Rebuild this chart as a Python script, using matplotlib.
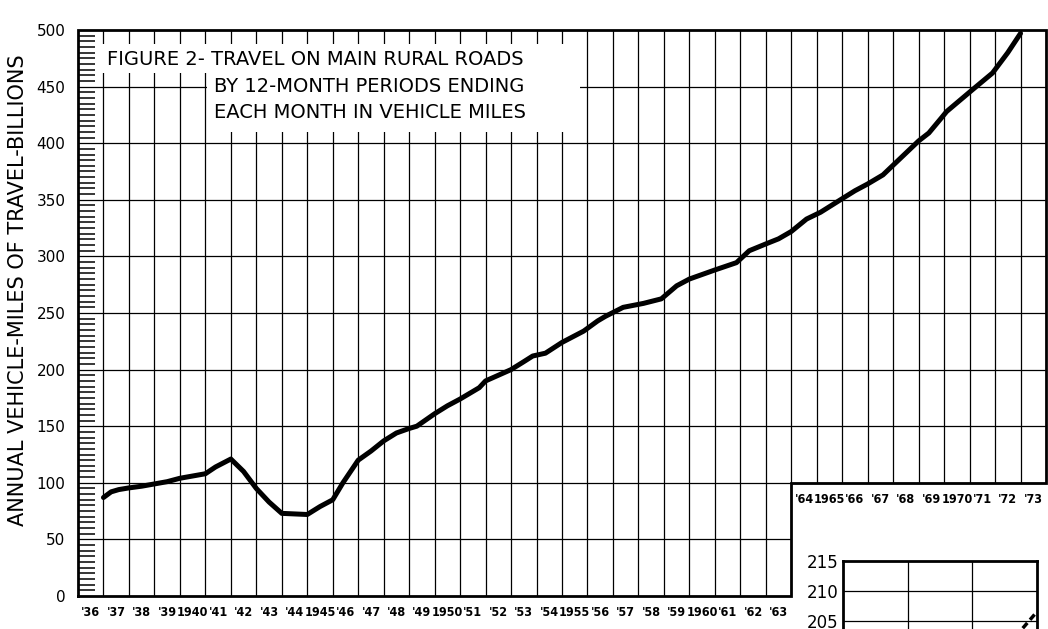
import matplotlib
matplotlib.use('Agg')
import matplotlib.pyplot as plt
from matplotlib.patches import Rectangle
from matplotlib.ticker import MultipleLocator
from matplotlib import font_manager

# ---- data (12-month moving totals, billions of vehicle-miles) ----
years = [1937.0, 1937.3, 1937.6, 1938.0, 1938.5, 1939.0, 1939.5, 1940.0, 1940.5,
         1941.0, 1941.4, 1942.0, 1942.5, 1943.0, 1943.5, 1944.0, 1944.5, 1945.0,
         1945.5, 1946.0, 1946.4, 1947.0, 1947.5, 1948.0, 1948.5, 1949.0, 1949.3,
         1950.0, 1950.5, 1951.0, 1951.75, 1952.0, 1953.0, 1953.5, 1953.85, 1954.35,
         1955.0, 1955.85, 1956.4, 1956.7, 1957.4, 1958.2, 1958.9, 1959.5, 1960.0,
         1961.0, 1961.85, 1962.35, 1963.0, 1963.5, 1964.0, 1964.6, 1965.15, 1966.0,
         1966.5, 1967.0, 1967.6, 1968.3, 1969.0, 1969.4, 1969.9, 1970.1, 1971.1,
         1971.9, 1972.5, 1973.0]
travel = [87, 92, 94, 95.5, 97, 99, 101, 104, 106,
          108, 114, 121, 110, 95, 83, 73, 72.5, 72,
          79, 85, 100, 120, 128, 137, 144, 148, 150,
          161, 168, 174, 184, 190, 200, 207, 212, 214.5,
          224, 234, 243, 247, 255, 258.5, 262.5, 274, 280,
          288, 294.5, 305, 311, 315.5, 322, 333, 339, 351,
          358, 364, 372, 387, 402, 409, 422.5, 428, 447,
          462, 480, 497]

bottom_years = list(range(1936, 1964))
bottom_labels = ["'36", "'37", "'38", "'39", "1940", "'41", "'42", "'43", "'44", "1945",
                 "'46", "'47", "'48", "'49", "1950", "'51", "'52", "'53", "'54", "1955",
                 "'56", "'57", "'58", "'59", "1960", "'61", "'62", "'63"]
right_years = list(range(1964, 1974))
right_labels = ["'64", "1965", "'66", "'67", "'68", "'69", "1970", "'71", "'72", "'73"]
y_ticks = list(range(0, 501, 50))

title_lines = ["FIGURE 2- TRAVEL ON MAIN RURAL ROADS",
               "BY 12-MONTH PERIODS ENDING",
               "EACH MONTH IN VEHICLE MILES"]
ylabel = "ANNUAL VEHICLE-MILES OF TRAVEL-BILLIONS"

inset_ticks = [205, 210, 215]
inset_x = [2.78, 2.98]
inset_y = [203.8, 206.3]

# ---- choose a narrow font for the year labels ----
fonts = font_manager.fontManager.ttflist
names = {f.name for f in fonts}
condensed_dejavu = any(f.name == 'DejaVu Sans' and str(f.stretch) in ('condensed', '300')
                       for f in fonts)
if 'Liberation Sans Narrow' in names:
    yr_font = dict(family=['Liberation Sans Narrow', 'DejaVu Sans'], weight='bold',
                   fontsize=10.5)
elif condensed_dejavu:
    yr_font = dict(family=['DejaVu Sans'], stretch='condensed', weight='bold', fontsize=9)
else:
    yr_font = dict(family=['Liberation Sans', 'DejaVu Sans'], weight='bold', fontsize=9)

# ---- figure ----
W, H = 1048, 629
fig = plt.figure(figsize=(W / 100, H / 100), dpi=100)
fig.patch.set_facecolor('white')
L, R, B, T = 78, 1046, 596, 30
ax = fig.add_axes([L / W, 1 - B / H, (R - L) / W, (B - T) / H])
ax.set_xlim(1936, 1974)
ax.set_ylim(0, 500)
for s in ax.spines.values():
    s.set_visible(False)

grid_kw = dict(color='black', lw=0.9, zorder=1)
for yr in range(1937, 1974):
    ax.vlines(yr, 0 if yr < 1964 else 100, 500, **grid_kw)
for v in y_ticks[1:-1]:
    ax.hlines(v, 1936, 1964 if v < 100 else 1974, **grid_kw)

# frame with the cut-out corner
ax.plot([1936, 1936, 1974, 1974, 1964, 1964, 1936],
        [0, 500, 500, 100, 100, 0, 0],
        color='black', lw=2.0, clip_on=False, solid_joinstyle='miter', zorder=6)

# title box (white area interrupting grid)
ax.add_patch(Rectangle((1936.85, 462), 1955.7 - 1936.85, 488 - 462,
                       facecolor='white', edgecolor='none', zorder=3))
ax.add_patch(Rectangle((1941.08, 410), 1955.7 - 1941.08, 462 - 410,
                       facecolor='white', edgecolor='none', zorder=3))
ax.text(1937.15, 474, title_lines[0], ha='left', va='center', fontsize=14, zorder=4)
ax.text(1941.35, 450, title_lines[1], ha='left', va='center', fontsize=14, zorder=4)
ax.text(1941.35, 427, title_lines[2], ha='left', va='center', fontsize=14, zorder=4)

# curve
ax.plot(years, travel, color='black', lw=3.6, solid_capstyle='round',
        solid_joinstyle='round', zorder=5)

# y axis
ax.set_yticks(y_ticks)
ax.yaxis.set_minor_locator(MultipleLocator(5))
ax.tick_params(axis='y', which='major', length=0, pad=9, labelsize=11)
ax.tick_params(axis='y', which='minor', direction='in', length=12, width=1.1)
fig.text(18 / W, 1 - 290 / H, ylabel, rotation=90, ha='center', va='center', fontsize=15)

# x labels
ax.set_xticks([y + 0.5 for y in bottom_years])
ax.set_xticklabels(bottom_labels, **yr_font)
ax.tick_params(axis='x', length=0, pad=7)
for yr, lab in zip(right_years, right_labels):
    ax.annotate(lab, (yr + 0.5, 100), xytext=(0, -7), textcoords='offset points',
                ha='center', va='top', **yr_font)

# inset fragment at lower right
ix0, ix1, itop = 843, 1037, 561
iax = fig.add_axes([ix0 / W, 0, (ix1 - ix0) / W, (H - itop) / H])
iax.set_xlim(0, 3)
iax.set_ylim(215 - (H - itop) / 6.0, 215)
iax.spines['bottom'].set_visible(False)
for k in ('top', 'left', 'right'):
    iax.spines[k].set_linewidth(2.0)
for xv in (1, 2):
    iax.vlines(xv, 200, 215, color='black', lw=0.9)
for v in inset_ticks[:-1]:
    iax.hlines(v, 0, 3, color='black', lw=0.9)
iax.plot(inset_x, inset_y, color='black', lw=2.5, ls=(0, (2, 1.2)))
iax.set_yticks(inset_ticks)
iax.tick_params(axis='y', length=0, pad=3, labelsize=12)
iax.set_xticks([])

fig.savefig('out.png', dpi=100, facecolor='white')
